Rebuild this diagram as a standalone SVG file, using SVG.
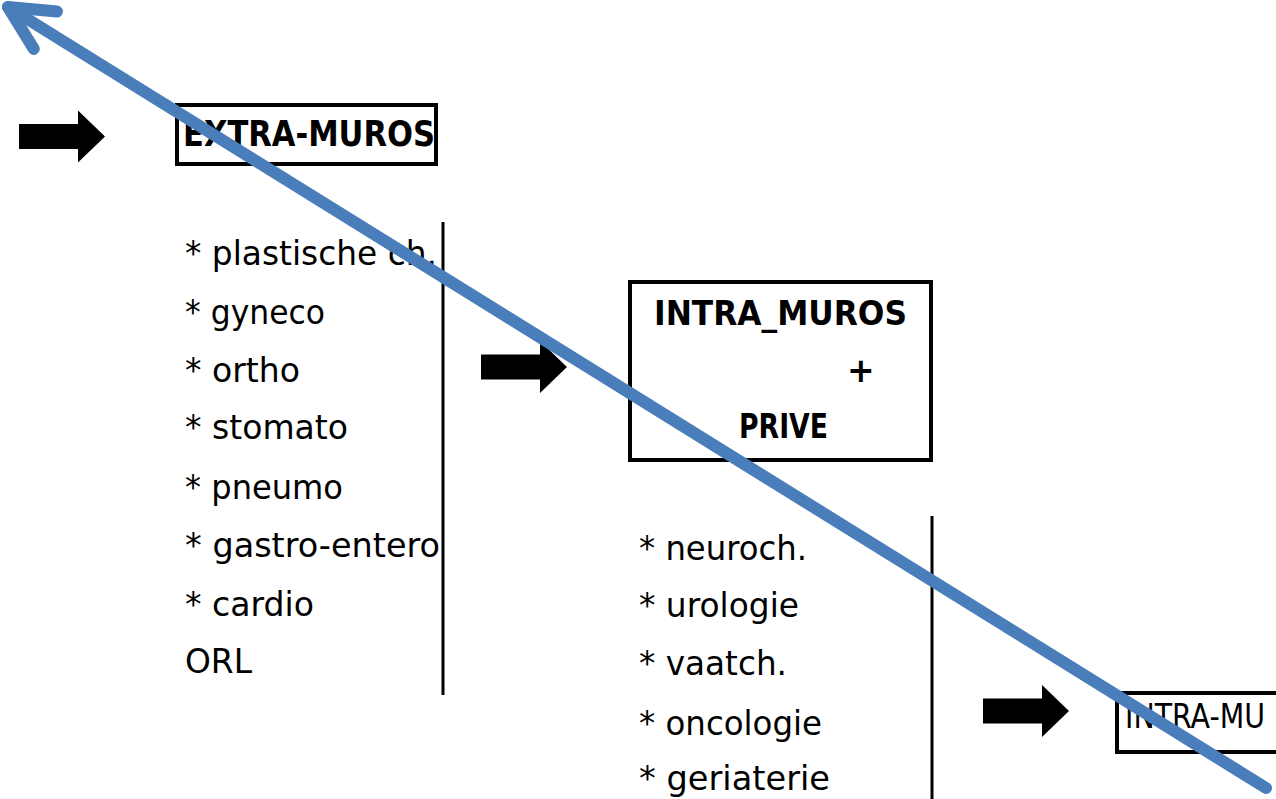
<svg xmlns="http://www.w3.org/2000/svg" width="1276" height="799" viewBox="0 0 1276 799">
<style>
.box{fill:#fff;stroke:#000;stroke-width:4}
.sep{stroke:#000;stroke-width:3}
.item{font-family:"DejaVu Sans","Liberation Sans",sans-serif;font-size:34px;fill:#000}
.head{font-family:"DejaVu Sans","Liberation Sans",sans-serif;font-weight:bold;fill:#000}
.reg{font-family:"DejaVu Sans","Liberation Sans",sans-serif;fill:#000}
.blue{stroke:#4A7EBB;stroke-width:12;fill:none;stroke-linecap:round;stroke-linejoin:round}
</style>
<defs>
<path id="blk" d="M0,-12.5 H59 V-26 L86,0 L59,26 V12.5 H0 Z" fill="#000"/>
<marker id="openhead" markerUnits="userSpaceOnUse" orient="auto" refX="0" refY="0" markerWidth="120" markerHeight="120" viewBox="-60 -60 120 120" overflow="visible">
<path d="M-44,-22 L0,0 L-44,22" class="blue"/>
</marker>
</defs>
<rect width="1276" height="799" fill="#fff"/>

<g id="arrow-1"><use href="#blk" transform="translate(19,136.5)"/></g>
<g id="arrow-2"><use href="#blk" transform="translate(481,367)"/></g>
<g id="arrow-3"><use href="#blk" transform="translate(983,711)"/></g>

<g id="node-extra-muros">
<rect class="box" x="177" y="105" width="259" height="59"/>
<text class="head" x="183" y="146" font-size="36" textLength="252" lengthAdjust="spacingAndGlyphs">EXTRA-MUROS</text>
</g>

<g id="list-left">
<text class="item" x="185" y="265" textLength="252" lengthAdjust="spacingAndGlyphs">* plastische ch.</text>
<text class="item" x="185" y="324" textLength="140" lengthAdjust="spacingAndGlyphs">* gyneco</text>
<text class="item" x="185" y="382" textLength="115" lengthAdjust="spacingAndGlyphs">* ortho</text>
<text class="item" x="185" y="439" textLength="163" lengthAdjust="spacingAndGlyphs">* stomato</text>
<text class="item" x="185" y="499" textLength="158" lengthAdjust="spacingAndGlyphs">* pneumo</text>
<text class="item" x="185" y="557" textLength="255" lengthAdjust="spacingAndGlyphs">* gastro-entero</text>
<text class="item" x="185" y="616" textLength="129" lengthAdjust="spacingAndGlyphs">* cardio</text>
<text class="item" x="185" y="673" textLength="67" lengthAdjust="spacingAndGlyphs">ORL</text>
<line class="sep" x1="443" y1="222" x2="443" y2="695"/>
</g>

<g id="node-intra-prive">
<rect class="box" x="630" y="282" width="301" height="178"/>
<text class="head" x="654" y="325" font-size="33" textLength="253" lengthAdjust="spacingAndGlyphs">INTRA_MUROS</text>
<text class="head" x="847" y="382" font-size="33">+</text>
<text class="head" x="739" y="438" font-size="33" textLength="89" lengthAdjust="spacingAndGlyphs">PRIVE</text>
</g>

<g id="list-middle">
<text class="item" x="639" y="560" textLength="168" lengthAdjust="spacingAndGlyphs">* neuroch.</text>
<text class="item" x="639" y="617" textLength="160" lengthAdjust="spacingAndGlyphs">* urologie</text>
<text class="item" x="639" y="675" textLength="148" lengthAdjust="spacingAndGlyphs">* vaatch.</text>
<text class="item" x="639" y="735" textLength="183" lengthAdjust="spacingAndGlyphs">* oncologie</text>
<text class="item" x="639" y="790" textLength="191" lengthAdjust="spacingAndGlyphs">* geriaterie</text>
<line class="sep" x1="932" y1="516" x2="932" y2="799"/>
</g>

<g id="node-intra-muros-2">
<rect class="box" x="1117" y="693" width="180" height="59"/>
<text class="reg" x="1125" y="728" font-size="34" textLength="140" lengthAdjust="spacingAndGlyphs">INTRA-MU</text>
</g>

<g id="connectors">
<line class="blue" x1="1266" y1="788" x2="8" y2="7" stroke-linecap="butt" marker-end="url(#openhead)"/>
</g>
</svg>
